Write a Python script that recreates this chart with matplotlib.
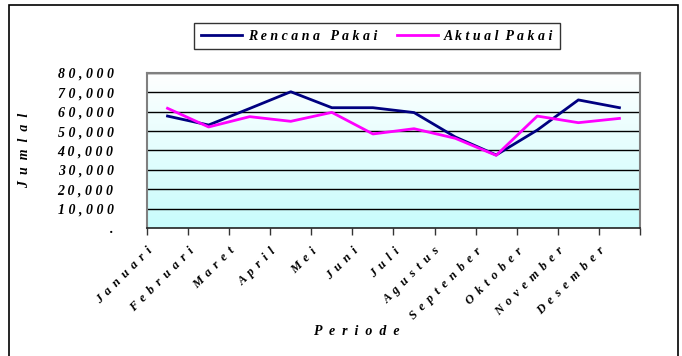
import numpy as np
import matplotlib
matplotlib.use("Agg")
import matplotlib.pyplot as plt
from matplotlib.colors import LinearSegmentedColormap
from matplotlib.patches import Rectangle

months = ["Januari", "Februari", "Maret", "April", "Mei", "Juni", "Juli",
          "Agustus", "Septenber", "Oktober", "November", "Desember"]
rencana = [57700, 53100, 61600, 70200, 62000, 62000, 59500, 47000, 37700, 50500, 66000, 62000]
aktual = [61700, 52100, 57400, 55000, 59600, 48500, 51200, 46300, 37500, 57700, 54300, 56500]
yticks = [0, 10000, 20000, 30000, 40000, 50000, 60000, 70000, 80000]
ytick_labels = [".", "10,000", "20,000", "30,000", "40,000",
                "50,000", "60,000", "70,000", "80,000"]

GAP = " \u2009"


def spaced(s, gap=GAP):
    return gap.join(s)


font = dict(family=["Liberation Serif", "DejaVu Serif"], weight="bold", style="italic")

fig = plt.figure(figsize=(6.82, 3.56), dpi=100)
fig.patch.set_facecolor("white")
ax = fig.add_axes([0.2155, 0.3587, 0.7229, 0.4371])

# outer chart frame
fig.add_artist(Rectangle((9 / 682, -0.05), (678 - 9) / 682, 1.05 - 5 / 356,
                         transform=fig.transFigure, fill=False,
                         edgecolor="black", linewidth=1.2))

n = len(months)
x = np.arange(n)

# background gradient: pale cyan at the bottom fading to white at the top
cmap = LinearSegmentedColormap.from_list("bg", ["#c8fcfc", "#ffffff"])
grad = np.linspace(0, 1, 256).reshape(-1, 1)
ax.imshow(grad, cmap=cmap, aspect="auto", origin="lower",
          extent=(-0.5, n - 0.5, 0, 80000), zorder=0, interpolation="bilinear")
ax.set_xlim(-0.5, n - 0.5)
ax.set_ylim(0, 80000)

for yv in yticks[1:]:
    ax.axhline(yv, color="black", linewidth=1.0, zorder=1)

ax.plot(x, rencana, color="#000080", linewidth=2, zorder=3,
        label=spaced("Rencana", " ") + "   " + spaced("Pakai", " "))
ax.plot(x, aktual, color="#ff00ff", linewidth=2, zorder=3,
        label=spaced("Aktual", " ") + "  " + spaced("Pakai", " "))

ax.set_yticks(yticks)
ax.set_yticklabels([spaced(t, " ") for t in ytick_labels], fontsize=10, **font)
ax.tick_params(axis="y", length=0, pad=24)

ax.set_xticks(np.append(np.arange(n) - 0.5, n - 0.5))
ax.set_xticklabels([spaced(m) for m in months] + [""], rotation=45, ha="right",
                   rotation_mode="anchor", fontsize=9, **font)
ax.tick_params(axis="x", length=5, width=1, color="#333333", pad=7)

for side in ["left", "top", "right"]:
    ax.spines[side].set_color("#808080")
    ax.spines[side].set_linewidth(1.5)
ax.spines["bottom"].set_color("#222222")
ax.spines["bottom"].set_linewidth(1.2)

ax.set_ylabel(spaced("Jumlal", "  "), fontsize=10, **font)
ax.yaxis.set_label_coords(-0.235, 0.5)
ax.set_xlabel(spaced("Periode", "  "), fontsize=10, **font)
ax.xaxis.set_label_coords(0.426, -0.62)

leg = fig.legend(loc="center", bbox_to_anchor=(377 / 682, 1 - 36 / 356), ncol=2,
                 frameon=True, fancybox=False, edgecolor="black",
                 prop=dict(size=10, **font), handlelength=3.0, columnspacing=1.4,
                 borderpad=0.45, handletextpad=0.4)
leg.get_frame().set_linewidth(1.0)

fig.savefig("out.png", dpi=100)
